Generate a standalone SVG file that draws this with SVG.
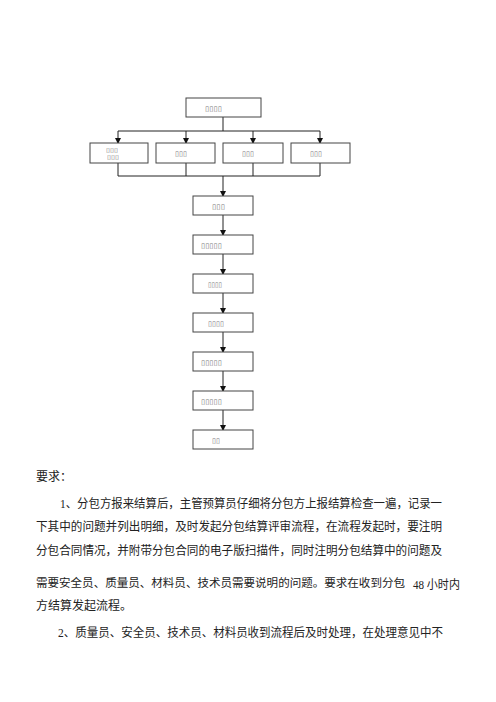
<svg xmlns="http://www.w3.org/2000/svg" width="496" height="702" viewBox="0 0 496 702">
<style>
.box{fill:#fff;stroke:#444;stroke-width:1}
.ln{fill:none;stroke:#222;stroke-width:1}
.tofu{font-family:"DejaVu Sans",sans-serif;font-size:7px;fill:#777;transform:rotate(0.01deg)}
.body{font-family:"Liberation Serif","Noto Sans CJK SC",serif;font-size:12px;fill:#222}
</style>
<defs>
<marker id="ah" markerWidth="6" markerHeight="6" refX="5" refY="3" orient="auto" markerUnits="userSpaceOnUse">
<path d="M0,0 L6,3 L0,6 Z" fill="#111"/>
</marker>
</defs>
<rect width="496" height="702" fill="#fff"/>
<g id="connectors">
<line class="ln" x1="223" y1="117" x2="223" y2="131"/>
<line class="ln" x1="118" y1="131" x2="320" y2="131"/>
<line class="ln" x1="118" y1="131" x2="118" y2="143" marker-end="url(#ah)"/>
<line class="ln" x1="186" y1="131" x2="186" y2="143" marker-end="url(#ah)"/>
<line class="ln" x1="253" y1="131" x2="253" y2="143" marker-end="url(#ah)"/>
<line class="ln" x1="320" y1="131" x2="320" y2="143" marker-end="url(#ah)"/>
<polyline class="ln" points="118,163 118,176 320,176 320,163"/>
<line class="ln" x1="186" y1="163" x2="186" y2="176"/>
<line class="ln" x1="253" y1="163" x2="253" y2="176"/>
<line class="ln" x1="223" y1="176" x2="223" y2="196" marker-end="url(#ah)"/>
<line class="ln" x1="223" y1="215" x2="223" y2="235" marker-end="url(#ah)"/>
<line class="ln" x1="223" y1="254" x2="223" y2="274" marker-end="url(#ah)"/>
<line class="ln" x1="223" y1="293" x2="223" y2="313" marker-end="url(#ah)"/>
<line class="ln" x1="223" y1="332" x2="223" y2="352" marker-end="url(#ah)"/>
<line class="ln" x1="223" y1="371" x2="223" y2="391" marker-end="url(#ah)"/>
<line class="ln" x1="223" y1="410" x2="223" y2="430" marker-end="url(#ah)"/>
</g>
<g id="n-top"><rect class="box" x="186" y="98" width="75" height="19"/><text class="tofu" x="205" y="110.5" textLength="17" lengthAdjust="spacingAndGlyphs">▯▯▯▯</text></g>
<g id="n-r1"><rect class="box" x="90" y="143" width="58" height="20"/>
<text class="tofu" style="font-size:6px"><tspan x="106" y="151.5" textLength="12" lengthAdjust="spacingAndGlyphs">▯▯▯</tspan><tspan x="107" y="158.5" textLength="12" lengthAdjust="spacingAndGlyphs">▯▯▯</tspan></text></g>
<g id="n-r2"><rect class="box" x="156" y="143" width="59" height="20"/><text class="tofu" x="175" y="156" textLength="12" lengthAdjust="spacingAndGlyphs">▯▯▯</text></g>
<g id="n-r3"><rect class="box" x="223" y="143" width="60" height="20"/><text class="tofu" x="242" y="156" textLength="12" lengthAdjust="spacingAndGlyphs">▯▯▯</text></g>
<g id="n-r4"><rect class="box" x="291" y="143" width="59" height="20"/><text class="tofu" x="310" y="156" textLength="12" lengthAdjust="spacingAndGlyphs">▯▯▯</text></g>
<g id="n-c1"><rect class="box" x="193" y="196" width="60" height="19"/><text class="tofu" x="212" y="208.5" textLength="13" lengthAdjust="spacingAndGlyphs">▯▯▯</text></g>
<g id="n-c2"><rect class="box" x="193" y="235" width="60" height="19"/><text class="tofu" x="201" y="247.5" textLength="21" lengthAdjust="spacingAndGlyphs">▯▯▯▯▯</text></g>
<g id="n-c3"><rect class="box" x="193" y="274" width="60" height="19"/><text class="tofu" x="208" y="286.5" textLength="14" lengthAdjust="spacingAndGlyphs">▯▯▯▯</text></g>
<g id="n-c4"><rect class="box" x="193" y="313" width="60" height="19"/><text class="tofu" x="208" y="325.5" textLength="16" lengthAdjust="spacingAndGlyphs">▯▯▯▯</text></g>
<g id="n-c5"><rect class="box" x="193" y="352" width="60" height="19"/><text class="tofu" x="201" y="364.5" textLength="21" lengthAdjust="spacingAndGlyphs">▯▯▯▯▯</text></g>
<g id="n-c6"><rect class="box" x="193" y="391" width="60" height="19"/><text class="tofu" x="201" y="403.5" textLength="21" lengthAdjust="spacingAndGlyphs">▯▯▯▯▯</text></g>
<g id="n-c7"><rect class="box" x="193" y="430" width="60" height="19"/><text class="tofu" x="212" y="442.5" textLength="8" lengthAdjust="spacingAndGlyphs">▯▯</text></g>
<g id="body">
<text class="body" x="36" y="481">要求：</text>
<text class="body" x="60" y="508" textLength="382" lengthAdjust="spacingAndGlyphs">1、分包方报来结算后，主管预算员仔细将分包方上报结算检查一遍，记录一</text>
<text class="body" x="36" y="531" textLength="406" lengthAdjust="spacingAndGlyphs">下其中的问题并列出明细，及时发起分包结算评审流程，在流程发起时，要注明</text>
<text class="body" x="36" y="555" textLength="406" lengthAdjust="spacingAndGlyphs">分包合同情况，并附带分包合同的电子版扫描件，同时注明分包结算中的问题及</text>
<text class="body" style="font-size:11.4px" x="36" y="587" textLength="369" lengthAdjust="spacingAndGlyphs">需要安全员、质量员、材料员、技术员需要说明的问题。要求在收到分包</text>
<text class="body" x="413" y="589" textLength="47" lengthAdjust="spacingAndGlyphs">48 小时内</text>
<text class="body" x="36" y="610">方结算发起流程。</text>
<text class="body" x="58" y="637" textLength="385" lengthAdjust="spacingAndGlyphs">2、质量员、安全员、技术员、材料员收到流程后及时处理，在处理意见中不</text>
</g>
</svg>
